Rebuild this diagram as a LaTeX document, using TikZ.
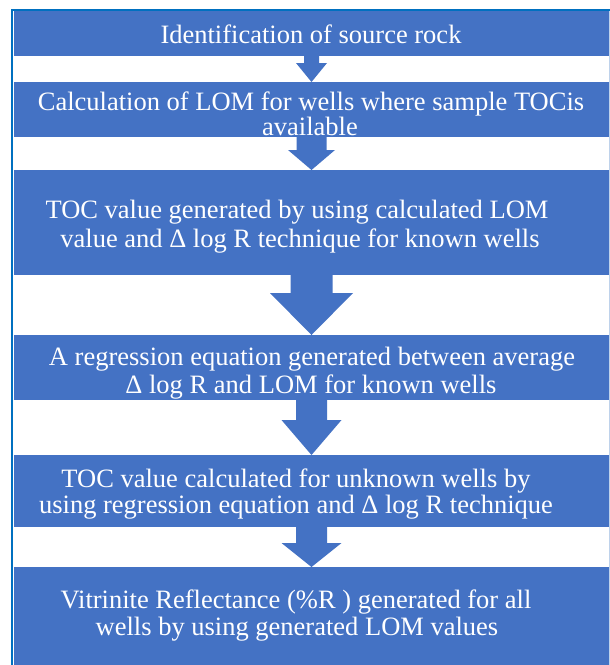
\documentclass[tikz,border=0pt]{standalone}
\usepackage{fontspec}
\setmainfont{Liberation Serif}
\usetikzlibrary{calc}
\definecolor{boxblue}{RGB}{68,114,196}
\definecolor{frameblue}{RGB}{0,112,192}
\definecolor{edgelight}{RGB}{190,210,235}
\tikzset{
  stepbox/.style={fill=boxblue, draw=none, inner sep=0pt, outer sep=0pt, anchor=north west},
  linetext/.style={text=white, inner sep=0pt, anchor=base, font=\fontsize{26.5}{30}\selectfont},
  blockarr/.style={fill=boxblue, draw=none}
}
% #1 from box, #2 to box, #3 shaft half width, #4 head half width, #5 head base y (pt, down)
\newcommand\blockarrow[5]{%
  \path (#1.south) coordinate (arS) ($(#1.south)!0!(#2.north)$) coordinate (arT);
  \path (arS |- 0,#5) coordinate (arH);
  \fill[blockarr] ($(arS)+(-#3,0)$) -- ($(arS)+(#3,0)$)
    -- ($(arH)+(#3,0)$) -- ($(arH)+(#4,0)$)
    -- (#2.north) -- ($(arH)+(-#4,0)$)
    -- ($(arH)+(-#3,0)$) -- cycle;}
\begin{document}
\begin{tikzpicture}[x=1pt,y=-1pt]
\useasboundingbox (0,0) rectangle (610,665);
\fill[white] (0,0) rectangle (610,665);
% frame
\draw[frameblue, line width=2pt] (12,665) -- (12,10) -- (610,10);
\draw[edgelight, line width=1pt] (609,11) -- (609,665);
% boxes
\node[stepbox, minimum width=595pt, minimum height=45pt] (b1) at (14,11) {};
\node[stepbox, minimum width=595pt, minimum height=55pt] (b2) at (14,82) {};
\node[stepbox, minimum width=595pt, minimum height=105pt] (b3) at (14,170) {};
\node[stepbox, minimum width=595pt, minimum height=65pt] (b4) at (14,335) {};
\node[stepbox, minimum width=595pt, minimum height=72pt] (b5) at (14,455) {};
\node[stepbox, minimum width=595pt, minimum height=98pt] (b6) at (14,567) {};
% block arrows
\blockarrow{b1}{b2}{7.5}{15.5}{63}
\blockarrow{b2}{b3}{15}{23.5}{150}
\blockarrow{b3}{b4}{21}{41.5}{293}
\blockarrow{b4}{b5}{15.5}{30}{420}
\blockarrow{b5}{b6}{15.5}{30}{543}
% texts
\node[linetext] (t1) at (311,43) {Identification of source rock};
\node[linetext] (t2a) at (311,110) {Calculation of LOM for wells where sample TOCis};
\node[linetext] (t2b) at (310,135) {available};
\node[linetext] (t3a) at (297,218) {TOC value generated by using calculated LOM};
\node[linetext] (t3b) at (300,247) {value and Δ log R technique for known wells};
\node[linetext] (t4a) at (312,365) {A regression equation generated between average};
\node[linetext] (t4b) at (311,393) {Δ log R and LOM for known wells};
\node[linetext] (t5a) at (296,487) {TOC value calculated for unknown wells by};
\node[linetext] (t5b) at (296,513) {using regression equation and Δ log R technique};
\node[linetext] (t6a) at (296,608) {Vitrinite Reflectance (\%R ) generated for all};
\node[linetext] (t6b) at (297,635) {wells by using generated LOM values};
\end{tikzpicture}
\end{document}
